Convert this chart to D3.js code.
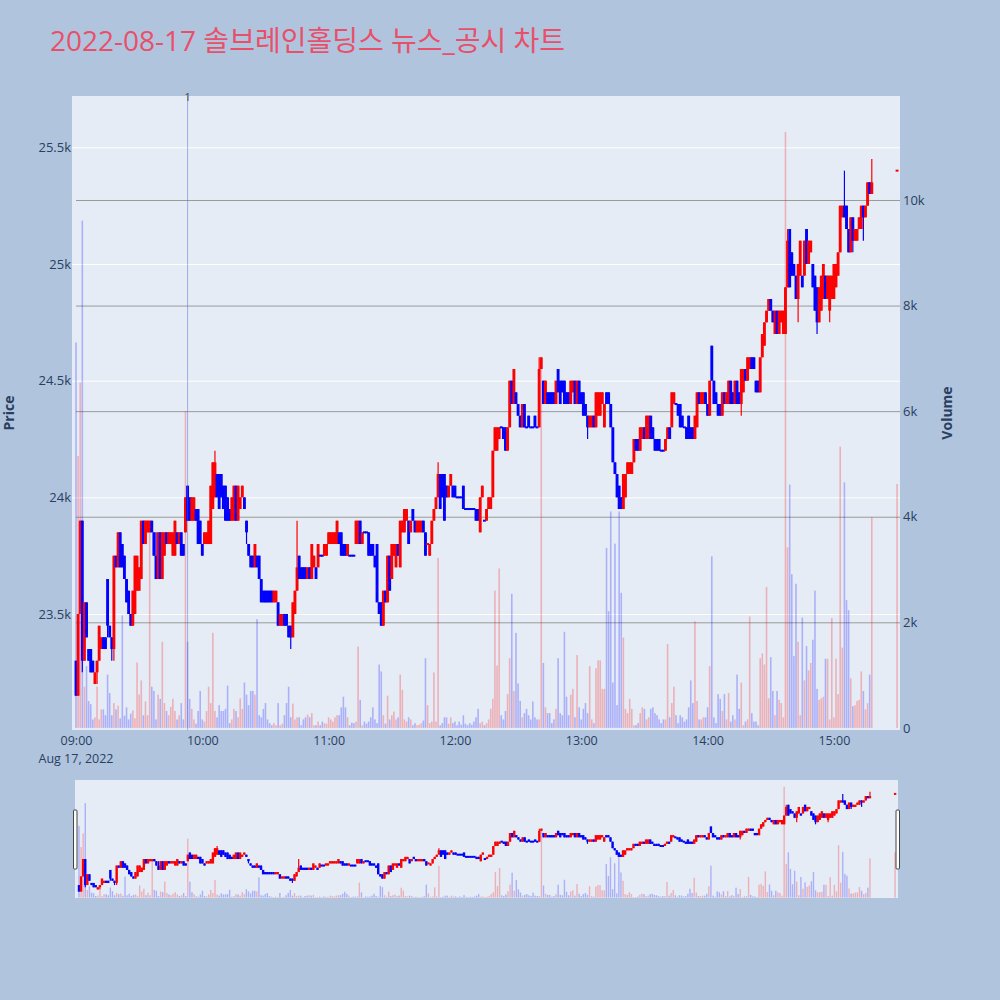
<!DOCTYPE html>
<html><head><meta charset="utf-8">
<script src="https://cdn.jsdelivr.net/npm/d3@7"></script>
<style>body{margin:0;background:#b0c4de}</style>
</head><body><svg id="c" width="1000" height="1000"></svg>
<script>
const chartTitle = "2022-08-17 솔브레인홀딩스 뉴스_공시 차트";
const sessionDate = "2022-08-17";
const sessionStart = "09:00";
const closingAuctionTime = "15:30";
const newsTime = "09:53";
const newsLabel = "1";
const priceTicks = [23500, 24000, 24500, 25000, 25500];
const volumeTicks = [0, 2000, 4000, 6000, 8000, 10000];
const hourTicks = ["09:00","10:00","11:00","12:00","13:00","14:00","15:00"];

const openP = [
23300,23150,23500,23900,23300,23550,23350,23350,23300,23200,
23250,23300,23350,23400,23400,23650,23450,23400,23350,23750,
23700,23850,23800,23750,23650,23600,23500,23450,23500,23600,
23600,23650,23900,23800,23850,23850,23900,23850,23750,23650,
23850,23650,23750,23850,23800,23800,23750,23750,23850,23800,
23850,23800,23850,24050,24000,23900,23900,23950,23950,23900,
23800,23800,23800,23800,23800,23950,24000,24100,24100,24100,
24050,24050,24000,23950,23900,23900,24050,23900,23950,24000,
24000,23900,23800,23750,23750,23700,23750,23750,23650,23600,
23600,23600,23600,23600,23550,23550,23550,23450,23450,23500,
23500,23450,23450,23400,23500,23600,23750,23700,23700,23700,
23650,23700,23650,23700,23700,23700,23750,23750,23750,23750,
23800,23800,23800,23800,23800,23850,23850,23800,23800,23750,
23750,23750,23750,23800,23800,23900,23800,23850,23850,23850,
23800,23800,23750,23800,23550,23550,23450,23600,23550,23750,
23650,23750,23700,23800,23700,23850,23850,23900,23900,23850,
23950,23900,23850,23850,23850,23900,23850,23800,23750,23800,
23900,23950,24000,24100,24100,24100,24050,24000,24050,24050,
24050,24000,24000,24000,24050,23950,23950,23950,23950,23950,
23950,23950,23850,24000,23900,23900,23950,23950,24000,24200,
24200,24250,24300,24300,24300,24200,24300,24500,24400,24450,
24400,24350,24300,24400,24300,24350,24300,24300,24350,24300,
24300,24550,24500,24400,24450,24450,24450,24450,24400,24550,
24500,24500,24500,24450,24450,24400,24450,24500,24400,24500,
24450,24450,24400,24350,24300,24300,24350,24300,24350,24350,
24400,24300,24450,24450,24400,24300,24150,24100,24050,24000,
23950,24000,24100,24100,24100,24150,24250,24250,24200,24250,
24300,24250,24250,24350,24300,24250,24250,24250,24200,24200,
24200,24250,24300,24300,24400,24400,24400,24400,24350,24300,
24300,24350,24300,24300,24250,24300,24450,24400,24400,24450,
24400,24350,24650,24500,24450,24400,24400,24350,24450,24400,
24400,24500,24450,24400,24500,24450,24400,24450,24550,24500,
24550,24600,24600,24500,24500,24450,24600,24650,24750,24800,
24850,24800,24700,24800,24700,24750,24700,24700,24900,25150,
25050,25000,24950,24850,24950,24950,24950,25150,25000,25050,
25000,24950,24900,24750,24800,24850,24950,24850,24800,24850,
24850,24900,24950,25050,25200,25250,25250,25150,25050,25200,
25100,25100,25150,25150,25250,25200,25250,25350,25300,
25400];

const closeP = [
23150,23500,23900,23300,23550,23400,23300,23250,23250,23250,
23300,23450,23400,23350,23350,23450,23400,23350,23750,23700,
23850,23700,23700,23650,23550,23500,23450,23600,23750,23750,
23700,23900,23800,23900,23900,23900,23850,23750,23650,23850,
23650,23850,23850,23800,23850,23850,23850,23900,23800,23850,
23750,23750,24000,23900,23900,24000,24000,23900,23800,23800,
23750,23850,23850,23900,24050,24150,24150,24000,23950,24000,
23950,23900,23900,23900,24000,24050,23900,24050,24000,24050,
23950,23850,23750,23700,23700,23800,23700,23650,23550,23550,
23550,23550,23550,23550,23600,23600,23450,23500,23500,23450,
23450,23400,23400,23550,23600,23700,23650,23650,23650,23650,
23700,23650,23800,23750,23650,23800,23750,23750,23800,23800,
23850,23850,23850,23850,23900,23800,23750,23750,23750,23800,
23750,23750,23750,23900,23900,23800,23850,23850,23850,23750,
23750,23750,23700,23550,23500,23450,23600,23550,23750,23600,
23800,23800,23800,23750,23900,23900,23950,23950,23800,23900,
23900,23850,23900,23900,23900,23850,23750,23800,23800,23900,
23950,24000,24100,23950,24000,23900,24000,24050,24100,24000,
24000,24000,24000,24000,23950,23950,23950,23950,23950,23950,
23900,23900,24000,24050,23900,23950,24000,24000,24200,24300,
24300,24300,24300,24250,24200,24300,24500,24400,24550,24400,
24350,24300,24400,24300,24300,24300,24300,24300,24300,24300,
24550,24600,24400,24500,24400,24400,24400,24400,24500,24450,
24400,24450,24400,24400,24400,24500,24500,24400,24500,24400,
24400,24350,24350,24300,24350,24350,24300,24450,24450,24450,
24450,24400,24400,24400,24300,24150,24100,24000,23950,23950,
24100,24100,24150,24150,24150,24250,24200,24200,24300,24300,
24250,24350,24350,24250,24250,24200,24200,24200,24200,24200,
24250,24300,24250,24450,24450,24400,24350,24300,24300,24300,
24250,24250,24250,24250,24350,24450,24400,24450,24450,24400,
24350,24500,24500,24400,24400,24350,24350,24450,24400,24450,
24500,24400,24400,24500,24400,24400,24550,24550,24500,24600,
24600,24550,24550,24450,24450,24600,24700,24750,24800,24850,
24800,24750,24800,24700,24800,24800,24800,24900,25100,24900,
24950,24950,24850,25000,25100,24900,25100,25000,25100,25100,
24900,24800,24750,24900,24950,25000,24850,24950,24950,24950,
25000,25000,25050,25250,25250,25200,25150,25050,25200,25100,
25150,25150,25200,25250,25200,25250,25350,25300,25350,
25400];

const highP = [
23300,23500,23900,23900,23550,23550,23350,23350,23300,23250,
23300,23450,23400,23400,23400,23650,23450,23400,23750,23750,
23850,23850,23800,23750,23650,23600,23500,23600,23750,23750,
23700,23900,23900,23900,23900,23900,23900,23850,23850,23850,
23850,23850,23850,23850,23850,23850,23850,23900,23850,23850,
23850,23800,24000,24050,24000,24000,24000,23950,23950,23900,
23800,23850,23850,23900,24050,24150,24200,24100,24100,24100,
24050,24050,24000,23950,24000,24050,24050,24050,24000,24050,
24000,23900,23800,23750,23750,23800,23750,23750,23650,23600,
23600,23600,23600,23600,23600,23600,23550,23500,23500,23500,
23500,23450,23450,23550,23600,23900,23750,23700,23700,23700,
23700,23700,23800,23750,23700,23800,23750,23750,23800,23800,
23850,23850,23850,23850,23900,23850,23850,23800,23800,23800,
23750,23750,23750,23900,23900,23900,23850,23850,23850,23850,
23800,23800,23750,23800,23550,23550,23600,23600,23750,23750,
23800,23800,23800,23800,23900,23900,23950,23950,23900,23900,
23950,23900,23900,23900,23900,23900,23850,23800,23800,23900,
23950,24000,24150,24100,24100,24100,24050,24050,24100,24050,
24050,24000,24000,24000,24050,23950,23950,23950,23950,23950,
23950,23950,24000,24050,23900,23950,24000,24000,24200,24300,
24300,24300,24300,24300,24300,24300,24500,24500,24550,24450,
24400,24350,24400,24400,24300,24350,24300,24300,24350,24300,
24600,24600,24500,24500,24450,24450,24450,24450,24500,24550,
24500,24500,24500,24450,24450,24500,24500,24500,24500,24500,
24450,24450,24400,24350,24350,24350,24350,24450,24450,24450,
24450,24400,24450,24450,24400,24300,24150,24100,24050,24000,
24100,24100,24150,24150,24150,24250,24250,24250,24300,24300,
24300,24350,24350,24350,24300,24250,24250,24250,24200,24200,
24250,24300,24300,24450,24450,24400,24400,24400,24350,24300,
24300,24350,24300,24300,24350,24450,24450,24450,24450,24450,
24400,24500,24650,24500,24450,24400,24400,24450,24450,24450,
24500,24500,24450,24500,24500,24450,24550,24550,24550,24600,
24600,24600,24600,24500,24500,24600,24700,24750,24800,24850,
24850,24800,24800,24800,24800,24800,24800,24900,25150,25150,
25050,25000,24950,25000,25100,24950,25100,25150,25100,25100,
25000,24950,24900,24900,24950,25000,24950,24950,24950,24950,
25000,25000,25050,25250,25250,25400,25250,25150,25200,25200,
25150,25150,25200,25250,25250,25250,25350,25350,25450,
25400];

const lowP = [
23150,23150,23500,23250,23300,23400,23300,23250,23250,23200,
23200,23300,23350,23350,23350,23400,23400,23300,23300,23700,
23700,23700,23700,23650,23550,23500,23450,23450,23500,23600,
23600,23650,23800,23800,23850,23850,23850,23750,23650,23650,
23650,23650,23750,23800,23800,23800,23750,23750,23800,23800,
23750,23750,23850,23900,23900,23900,23900,23900,23800,23800,
23750,23800,23800,23800,23800,23950,24000,24000,23950,24000,
23950,23900,23900,23900,23900,23900,23900,23900,23950,24000,
23950,23800,23750,23700,23700,23700,23700,23650,23550,23550,
23550,23550,23550,23550,23550,23550,23450,23450,23450,23450,
23450,23400,23350,23400,23500,23600,23650,23650,23650,23650,
23650,23650,23650,23700,23650,23700,23750,23750,23750,23750,
23800,23800,23800,23800,23800,23800,23750,23750,23750,23750,
23750,23750,23750,23800,23800,23800,23800,23850,23850,23750,
23750,23750,23700,23550,23500,23450,23450,23550,23550,23600,
23650,23750,23700,23750,23700,23850,23850,23900,23800,23850,
23900,23850,23850,23850,23850,23850,23750,23800,23750,23800,
23900,23950,24000,23950,24000,23900,24000,24000,24050,24000,
24000,24000,24000,24000,23950,23950,23950,23950,23950,23950,
23900,23900,23850,24000,23900,23900,23950,23950,24000,24200,
24200,24250,24300,24250,24200,24200,24300,24400,24400,24400,
24350,24300,24300,24300,24300,24300,24300,24300,24300,24300,
24300,24550,24400,24400,24400,24400,24400,24400,24400,24450,
24400,24450,24400,24400,24400,24400,24450,24400,24400,24400,
24400,24350,24350,24250,24300,24300,24300,24300,24350,24350,
24400,24300,24400,24400,24300,24150,24100,24000,23950,23950,
23950,24000,24100,24100,24100,24150,24200,24200,24200,24250,
24250,24250,24250,24250,24250,24200,24200,24200,24200,24200,
24200,24250,24250,24300,24400,24400,24350,24300,24300,24300,
24250,24250,24250,24250,24250,24300,24400,24400,24400,24400,
24350,24350,24500,24400,24400,24350,24350,24350,24400,24400,
24400,24400,24400,24400,24400,24400,24350,24450,24500,24500,
24550,24550,24550,24450,24450,24450,24600,24650,24750,24800,
24800,24750,24700,24700,24700,24750,24700,24700,24900,24900,
24950,24950,24850,24750,24950,24900,24950,25000,25000,25050,
24900,24800,24700,24750,24800,24850,24850,24850,24750,24850,
24850,24900,24950,25050,25200,25200,25150,25050,25050,25050,
25100,25100,25150,25150,25100,25200,25250,25300,25300,
25400];

const volume = [
7300,5150,6540,9610,780,1170,510,450,160,200,
780,160,350,350,240,1010,660,240,470,350,
420,180,2130,230,390,160,270,330,180,1240,
630,900,240,500,240,3870,780,700,160,630,
550,1630,470,320,240,400,550,320,160,240,
470,160,6000,1630,550,360,160,80,320,700,
160,120,320,780,470,1800,320,200,430,320,
320,360,800,90,160,360,320,200,560,360,
860,630,430,700,700,630,2060,240,200,360,
470,160,90,50,90,50,470,50,80,240,
470,780,200,460,160,200,200,50,160,200,
250,200,280,50,50,120,50,120,90,80,
200,160,120,200,240,240,390,590,390,200,
50,100,90,120,1540,530,50,120,80,120,
200,390,160,90,1200,1070,240,80,610,160,
240,310,160,200,1010,720,160,120,200,160,
50,90,50,60,90,140,1320,430,90,120,
1050,120,3220,50,90,200,200,80,200,90,
120,50,120,60,240,80,50,90,60,120,
200,360,90,120,50,90,160,360,550,2600,
1180,3020,240,160,320,640,1320,2540,700,1800,
840,510,200,280,360,240,160,500,200,160,
160,6800,1230,390,280,280,90,160,360,1320,
280,240,1820,590,240,630,740,200,1380,390,
160,360,470,280,1170,160,90,1130,1280,1280,
740,740,3410,2210,4100,860,3490,430,4100,2560,
1710,360,280,550,360,50,50,90,280,390,
360,160,200,360,390,280,240,160,90,160,
160,1590,200,470,780,240,90,240,200,120,
160,390,900,470,2020,510,160,160,200,200,
390,1170,3250,200,90,640,550,320,640,160,
660,120,240,160,1010,360,860,50,120,160,
2110,280,120,120,50,1320,1410,1200,2670,560,
1340,700,240,700,530,470,200,11290,3420,4610,
2910,1360,2730,1630,240,2090,900,1550,1090,1230,
1670,2600,740,530,560,590,1310,1310,160,2080,
200,1310,640,5330,1520,4650,2420,2230,940,410,
430,510,530,1070,700,350,470,1010,3990,
4620];

// ---------- build time axis categories ----------
const parseT = d3.timeParse("%Y-%m-%d %H:%M");
const t0 = parseT(sessionDate + " " + sessionStart);
const tClose = parseT(sessionDate + " " + closingAuctionTime);
const times = openP.map((_, i) => i < openP.length - 1 ? d3.timeMinute.offset(t0, i) : tClose);
const data = times.map((t, i) => ({t, o: openP[i], h: highP[i], l: lowP[i], c: closeP[i], v: volume[i]}));
data.forEach((d, i) => {
  const pc = i ? data[i - 1].c : d.o;
  d.up = d.c > d.o || (d.c === d.o && d.c > pc);
});

const UP = "#ff0000", DOWN = "#0000ff";
const FONT = "'Open Sans', 'Noto Sans CJK KR', Arial, sans-serif";
const TXT = "#2a3f5f";

const P = {x0: 72, x1: 900, y0: 96, y1: 730};
const S = {x0: 75, x1: 898, y0: 780, y1: 898};

const xDomain = [d3.timeSecond.offset(t0, -114), d3.timeSecond.offset(t0, 391.4 * 60)];
const x = d3.scaleTime().domain(xDomain).range([P.x0, P.x1]);
const y = d3.scaleLinear().domain([23003, 25720]).range([P.y1, P.y0]);
const yv = d3.scaleLinear().domain([-40, 11970]).range([P.y1, P.y0]);
const xs = d3.scaleTime().domain(xDomain).range([S.x0, S.x1]);
const ys = d3.scaleLinear().domain([23003, 25720]).range([S.y1, S.y0]);
const yvs = d3.scaleLinear().domain([-40, 11970]).range([S.y1, S.y0]);

const svg = d3.select("#c");
svg.append("rect").attr("width", 1000).attr("height", 1000).attr("fill", "#b0c4de");

svg.append("text").attr("x", 50).attr("y", 51).text(chartTitle)
  .attr("font-family", FONT).attr("font-size", 28).attr("fill", "#e8506a");

const defs = svg.append("defs");
defs.append("clipPath").attr("id", "cp").append("rect")
  .attr("x", P.x0).attr("y", P.y0).attr("width", P.x1 - P.x0).attr("height", P.y1 - P.y0);
defs.append("clipPath").attr("id", "cs").append("rect")
  .attr("x", S.x0).attr("y", S.y0).attr("width", S.x1 - S.x0).attr("height", S.y1 - S.y0);

svg.append("rect").attr("x", P.x0).attr("y", P.y0).attr("width", P.x1 - P.x0).attr("height", P.y1 - P.y0)
  .attr("fill", "#e5ecf6");

// price grid (white)
const gy = svg.append("g").attr("transform", `translate(${P.x0},0)`)
  .call(d3.axisLeft(y).tickValues(priceTicks).tickSize(-(P.x1 - P.x0)).tickFormat(""));
gy.select(".domain").remove();
gy.selectAll("line").attr("stroke", "#ffffff").attr("stroke-width", 1);

// volume grid (gray)
const gv = svg.append("g").attr("transform", `translate(${P.x1},0)`)
  .call(d3.axisRight(yv).tickValues(volumeTicks.slice(1)).tickSize(-(P.x1 - P.x0) + 4).tickFormat(""));
gv.select(".domain").remove();
gv.selectAll("line").attr("stroke", "#9a9a9a").attr("stroke-width", 1);

function drawMarks(g, xS, yS, yVS, bodyW, volW) {
  g.selectAll("rect.vol").data(data).enter().append("rect").attr("class", "vol")
    .attr("x", d => xS(d.t) - volW / 2).attr("width", volW)
    .attr("y", d => yVS(d.v)).attr("height", d => Math.max(0, yVS(0) - yVS(d.v)))
    .attr("fill", d => d.up ? UP : DOWN).attr("fill-opacity", 0.25);
  g.selectAll("line.wick").data(data).enter().append("line").attr("class", "wick")
    .attr("x1", d => xS(d.t)).attr("x2", d => xS(d.t))
    .attr("y1", d => yS(d.h)).attr("y2", d => yS(d.l))
    .attr("stroke", d => d.up ? UP : DOWN).attr("stroke-width", 1.2);
  g.selectAll("rect.body").data(data).enter().append("rect").attr("class", "body")
    .attr("x", d => xS(d.t) - bodyW / 2).attr("width", bodyW)
    .attr("y", d => { const a = yS(Math.max(d.o, d.c)), b = yS(Math.min(d.o, d.c)); return b - a < 2 ? (a + b) / 2 - 1 : a; })
    .attr("height", d => Math.max(2, yS(Math.min(d.o, d.c)) - yS(Math.max(d.o, d.c))))
    .attr("fill", d => d.up ? UP : DOWN);
}

const gm = svg.append("g").attr("clip-path", "url(#cp)");
drawMarks(gm, x, y, yv, 2.9, 1.6);

// news line
const tn = parseT(sessionDate + " " + newsTime);
svg.append("line").attr("x1", x(tn)).attr("x2", x(tn)).attr("y1", P.y0).attr("y2", P.y1)
  .attr("stroke", "rgba(70,100,210,0.45)").attr("stroke-width", 1);
svg.append("text").attr("x", x(tn)).attr("y", P.y0 + 5).attr("text-anchor", "middle")
  .attr("font-family", FONT).attr("font-size", 11).attr("fill", "#444").text(newsLabel);

// axes labels
const ax = svg.append("g").attr("transform", `translate(0,${P.y1})`)
  .call(d3.axisBottom(x).tickValues(hourTicks.map(h => parseT(sessionDate + " " + h)))
    .tickFormat(d3.timeFormat("%H:%M")).tickSize(0).tickPadding(6));
ax.select(".domain").remove();
ax.selectAll("text").attr("font-family", FONT).attr("font-size", 12.5).attr("fill", TXT);
svg.append("text").attr("x", x(t0)).attr("y", 763).attr("text-anchor", "middle")
  .attr("font-family", FONT).attr("font-size", 12.5).attr("fill", TXT)
  .text(d3.timeFormat("%b %-d, %Y")(t0));

const ay = svg.append("g").attr("transform", `translate(${P.x0},0)`)
  .call(d3.axisLeft(y).tickValues(priceTicks).tickFormat(d3.format("~s")).tickSize(0).tickPadding(1));
ay.select(".domain").remove();
ay.selectAll("text").attr("font-family", FONT).attr("font-size", 13).attr("fill", TXT);

const avv = svg.append("g").attr("transform", `translate(${P.x1},0)`)
  .call(d3.axisRight(yv).tickValues(volumeTicks).tickFormat(d3.format("~s")).tickSize(0).tickPadding(3));
avv.select(".domain").remove();
avv.selectAll("text").attr("font-family", FONT).attr("font-size", 13).attr("fill", TXT);

svg.append("text").attr("transform", `translate(14,${(P.y0 + P.y1) / 2}) rotate(-90)`)
  .attr("text-anchor", "middle").attr("font-family", FONT).attr("font-size", 14)
  .attr("font-weight", "bold").attr("fill", TXT).text("Price");
svg.append("text").attr("transform", `translate(952,${(P.y0 + P.y1) / 2}) rotate(-90)`)
  .attr("text-anchor", "middle").attr("font-family", FONT).attr("font-size", 14)
  .attr("font-weight", "bold").attr("fill", TXT).text("Volume");

// range slider
svg.append("rect").attr("x", S.x0).attr("y", S.y0).attr("width", S.x1 - S.x0).attr("height", S.y1 - S.y0)
  .attr("fill", "#e5ecf6");
const gs = svg.append("g").attr("clip-path", "url(#cs)");
drawMarks(gs, xs, ys, yvs, 2.4, 1.4);
[[S.x0 - 1.5, S.y0 + 30], [S.x1 - 2, S.y0 + 30]].forEach(([hx, hy]) => {
  svg.append("rect").attr("x", hx).attr("y", hy).attr("width", 3.5).attr("height", 59)
    .attr("fill", "#ffffff").attr("stroke", "#444").attr("stroke-width", 1).attr("rx", 1);
});
</script>
</body></html>
